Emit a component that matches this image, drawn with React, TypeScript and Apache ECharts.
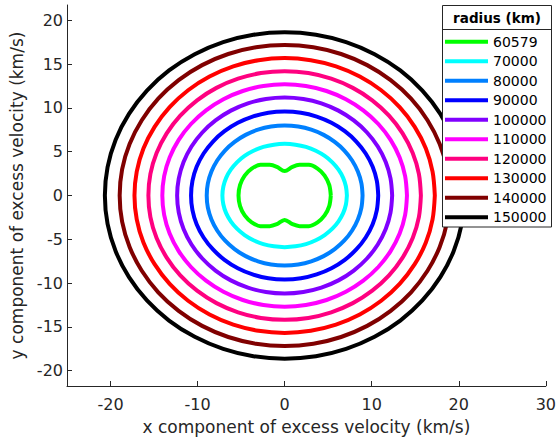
import React, { useEffect, useRef } from "react";
import * as echarts from "echarts";

// Legend labels (orbital radius, km)
const RADII = ["60579", "70000", "80000", "90000", "100000", "110000", "120000", "130000", "140000", "150000"];
const COLORS = ["#00ff00", "#00ffff", "#0080ff", "#0000ff", "#8000ff", "#ff00ff", "#ff0080", "#ff0000", "#800000", "#000000"];

// First-quadrant points of each closed curve [vx, vy] (km/s);
// curves are symmetric about both axes.
const Q_60579 = [[5.3, 0], [5.12, 1.21], [4.59, 2.28], [3.78, 3.07], [2.78, 3.5], [1.72, 3.5], [0.9, 3.28], [0, 2.8]];
const Q_70000 = [[7.15, 0], [7.04, 1.03], [6.72, 2.02], [6.19, 2.95], [5.48, 3.79], [4.6, 4.52], [3.58, 5.11], [2.45, 5.55], [1.24, 5.81], [0, 5.9]];
const Q_80000 = [[8.95, 0], [8.82, 1.39], [8.41, 2.74], [7.75, 4.0], [6.86, 5.14], [5.75, 6.13], [4.48, 6.93], [3.06, 7.52], [1.56, 7.88], [0, 8.0]];
const Q_90000 = [[10.75, 0], [10.59, 1.67], [10.11, 3.28], [9.31, 4.8], [8.23, 6.17], [6.91, 7.35], [5.38, 8.31], [3.68, 9.02], [1.87, 9.46], [0, 9.6]];
const Q_100000 = [[12.35, 0], [12.16, 1.95], [11.61, 3.83], [10.7, 5.6], [9.46, 7.2], [7.94, 8.58], [6.18, 9.7], [4.22, 10.53], [2.15, 11.03], [0, 11.2]];
const Q_110000 = [[14.05, 0], [13.84, 2.21], [13.21, 4.34], [12.17, 6.35], [10.76, 8.17], [9.03, 9.73], [7.03, 11.0], [4.81, 11.94], [2.44, 12.51], [0, 12.7]];
const Q_120000 = [[15.65, 0], [15.42, 2.47], [14.71, 4.86], [13.55, 7.1], [11.99, 9.13], [10.06, 10.88], [7.83, 12.3], [5.35, 13.35], [2.72, 13.99], [0, 14.2]];
const Q_130000 = [[17.25, 0], [16.99, 2.73], [16.22, 5.37], [14.94, 7.85], [13.21, 10.1], [11.09, 12.03], [8.63, 13.6], [5.9, 14.76], [3.0, 15.46], [0, 15.7]];
const Q_140000 = [[18.95, 0], [18.67, 2.99], [17.81, 5.88], [16.41, 8.6], [14.52, 11.06], [12.18, 13.18], [9.48, 14.9], [6.48, 16.17], [3.3, 16.94], [0, 17.2]];
const Q_150000 = [[20.65, 0], [20.34, 3.25], [19.41, 6.38], [17.88, 9.33], [15.82, 11.99], [13.28, 14.29], [10.33, 16.15], [7.06, 17.53], [3.59, 18.37], [0, 18.65]];

const QUADRANTS = [Q_60579, Q_70000, Q_80000, Q_90000, Q_100000, Q_110000, Q_120000, Q_130000, Q_140000, Q_150000];

// Axis ticks
const X_TICKS = [-20, -10, 0, 10, 20, 30];
const Y_TICKS = [-20, -15, -10, -5, 0, 5, 10, 15, 20];

function closeCurve(q: number[][]): number[][] {
  const rev = q.slice().reverse();
  const out: number[][] = [];
  q.forEach((p) => out.push([p[0], p[1]]));
  rev.slice(1).forEach((p) => out.push([-p[0], p[1]]));
  q.slice(1).forEach((p) => out.push([-p[0], -p[1]]));
  rev.slice(1).forEach((p) => out.push([p[0], -p[1]]));
  return out;
}

const FONT = "DejaVu Sans";
const AX = "#262626";

export default function App() {
  const ref = useRef<HTMLDivElement>(null);
  useEffect(() => {
    if (!ref.current) return;
    const chart = echarts.init(ref.current, undefined, { renderer: "svg" });
    const series = RADII.map((name, i) => ({
      name,
      type: "line",
      data: closeCurve(QUADRANTS[i]),
      showSymbol: false,
      symbol: "none",
      smooth: 0.33,
      lineStyle: { color: COLORS[i], width: 4 },
      itemStyle: { color: COLORS[i] },
      z: 2,
    }));
    chart.setOption({
      animation: false,
      backgroundColor: "#ffffff",
      grid: { left: 67, right: 8, top: 5, bottom: 53, containLabel: false },
      xAxis: {
        type: "value",
        min: -25,
        max: 30,
        name: "x component of excess velocity (km/s)",
        nameLocation: "middle",
        nameGap: 32,
        nameTextStyle: { fontFamily: FONT, fontSize: 17, color: AX },
        axisLine: { show: true, onZero: false, lineStyle: { color: AX, width: 1 } },
        axisTick: { show: true, inside: true, length: 5, customValues: X_TICKS, lineStyle: { color: AX } },
        axisLabel: { customValues: X_TICKS, fontFamily: FONT, fontSize: 16, color: AX, margin: 10 },
        splitLine: { show: false },
      },
      yAxis: {
        type: "value",
        min: -21.77,
        max: 21.77,
        name: "y component of excess velocity (km/s)",
        nameLocation: "middle",
        nameGap: 37,
        nameTextStyle: { fontFamily: FONT, fontSize: 17, color: AX },
        axisLine: { show: true, onZero: false, lineStyle: { color: AX, width: 1 } },
        axisTick: { show: true, inside: true, length: 5, customValues: Y_TICKS, lineStyle: { color: AX } },
        axisLabel: { customValues: Y_TICKS, fontFamily: FONT, fontSize: 16, color: AX, margin: 4 },
        splitLine: { show: false },
      },
      legend: {
        data: RADII,
        orient: "vertical",
        left: 445,
        top: 32,
        padding: 0,
        itemGap: 0,
        itemWidth: 43,
        itemHeight: 4,
        icon: "rect",
        selectedMode: false,
        textStyle: { fontFamily: FONT, fontSize: 14, color: "#000", lineHeight: 19.5 },
        z: 4,
      },
      graphic: [
        {
          type: "rect",
          z: 3,
          shape: { x: 442.5, y: 5.5, width: 109, height: 221.5 },
          style: { fill: "#ffffff", stroke: AX, lineWidth: 1 },
        },
        {
          type: "line",
          z: 3,
          shape: { x1: 442.5, y1: 29.5, x2: 551.5, y2: 29.5 },
          style: { stroke: AX, lineWidth: 1 },
        },
        {
          type: "text",
          z: 3,
          x: 497,
          y: 18,
          style: {
            text: "radius (km)",
            fontFamily: FONT,
            fontSize: 13.5,
            fontWeight: "bold",
            fill: "#000",
            align: "center",
            verticalAlign: "middle",
          },
        },
      ],
      series,
    });
    return () => chart.dispose();
  }, []);
  return <div ref={ref} style={{ position: "absolute", left: 0, top: 0, width: 559, height: 440 }} />;
}
